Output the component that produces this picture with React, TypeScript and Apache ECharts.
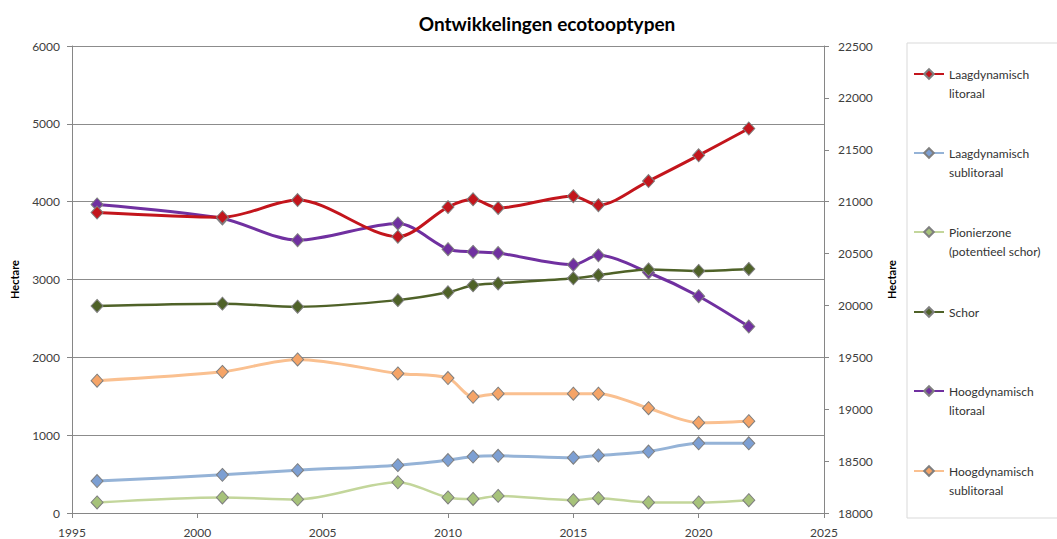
import React, { useEffect, useRef } from "react";
import * as echarts from "echarts";

const years = [1996, 2001, 2004, 2008, 2010, 2011, 2012, 2015, 2016, 2018, 2020, 2022];
const laagLitoraal = [3860, 3800, 4020, 3550, 3930, 4030, 3920, 4070, 3955, 4265, 4595, 4940];
const laagSublitoraal = [410, 490, 550, 615, 680, 725, 735, 710, 740, 790, 895, 895];
const pionierzone = [135, 200, 175, 395, 200, 180, 220, 165, 190, 135, 135, 165];
const schor = [2660, 2690, 2650, 2735, 2835, 2925, 2950, 3015, 3055, 3130, 3110, 3135];
const hoogLitoraal = [3965, 3785, 3505, 3720, 3390, 3355, 3340, 3190, 3310, 3090, 2785, 2395];
const hoogSublitoraal = [19275, 19360, 19480, 19345, 19300, 19120, 19150, 19150, 19150, 19010, 18870, 18885];

const seriesNames = [
  "Laagdynamisch litoraal",
  "Laagdynamisch sublitoraal",
  "Pionierzone (potentieel schor)",
  "Schor",
  "Hoogdynamisch litoraal",
  "Hoogdynamisch sublitoraal",
];
const legendLabels = [
  "Laagdynamisch\nlitoraal",
  "Laagdynamisch\nsublitoraal",
  "Pionierzone\n(potentieel schor)",
  "Schor",
  "Hoogdynamisch\nlitoraal",
  "Hoogdynamisch\nsublitoraal",
];
const seriesData = [laagLitoraal, laagSublitoraal, pionierzone, schor, hoogLitoraal, hoogSublitoraal];
const axisIndex = [0, 0, 0, 0, 0, 1];
const lineColors = ["#C3151C", "#95B3D7", "#C3D69B", "#4F6228", "#7030A0", "#FAC090"];
const markerColors = ["#C3151C", "#7C9FD3", "#A6C27A", "#4F6228", "#7030A0", "#F5A467"];
const lineWidths = [3, 3, 2.5, 2.5, 3, 3];
const legendIconY = [74, 153, 232, 312, 391, 471];

const FONT = "Lato, 'Open Sans', sans-serif";

export default function App() {
  const ref = useRef<HTMLDivElement>(null);
  useEffect(() => {
    if (!ref.current) return;
    const chart = echarts.init(ref.current, undefined, { renderer: "svg" });
    const series = seriesNames.map((name, i) => ({
      name,
      type: "line",
      yAxisIndex: axisIndex[i],
      data: years.map((y, j) => [y, seriesData[i][j]]),
      smooth: 0.3,
      symbol: "diamond",
      symbolSize: [12, 13],
      lineStyle: { color: lineColors[i], width: lineWidths[i] },
      itemStyle: { color: markerColors[i], borderColor: "#7f7f7f", borderWidth: 1 },
      z: 10 - i,
    }));
    const legends = seriesNames.map((name, i) => {
      const twoLine = legendLabels[i].includes("\n");
      const boxH = twoLine ? 57 : 19;
      return {
        left: 908,
        top: legendIconY[i] - boxH / 2 - 5,
        orient: "vertical",
        itemWidth: 30,
        itemHeight: 12,
        selectedMode: false,
        formatter: () => (twoLine ? "\n" + legendLabels[i] : legendLabels[i]),
        data: [
          {
            name,
            textStyle: {
              fontFamily: FONT,
              fontSize: 12,
              color: "#333",
              lineHeight: 19,
            },
          },
        ],
      };
    });
    const axisLabelStyle = { fontFamily: FONT, fontSize: 12, color: "#404040" };
    chart.setOption({
      animation: false,
      backgroundColor: "#fff",
      title: {
        text: "Ontwikkelingen ecotooptypen",
        left: 542,
        textAlign: "center",
        top: 9,
        textStyle: { fontFamily: FONT, fontSize: 19, fontWeight: "bold", color: "#000" },
      },
      legend: legends,
      graphic: [
        {
          type: "rect",
          shape: { x: 907, y: 43, width: 200, height: 475 },
          style: { fill: "none", stroke: "#d9d9d9", lineWidth: 1 },
          silent: true,
        },
      ],
      grid: { left: 72, right: 233, top: 46, bottom: 26, containLabel: false },
      xAxis: {
        type: "value",
        min: 1995,
        max: 2025,
        interval: 5,
        axisLine: { lineStyle: { color: "#868686" } },
        axisTick: { lineStyle: { color: "#868686" }, length: 5 },
        splitLine: { show: false },
        axisLabel: { ...axisLabelStyle, formatter: (v: number) => String(v), margin: 13 },
      },
      yAxis: [
        {
          type: "value",
          min: 0,
          max: 6000,
          interval: 1000,
          name: "Hectare",
          nameLocation: "middle",
          nameGap: 52,
          nameTextStyle: { fontFamily: FONT, fontSize: 11, fontWeight: "bold", color: "#000" },
          axisLine: { show: true, lineStyle: { color: "#868686" } },
          axisTick: { show: true, lineStyle: { color: "#868686" }, length: 5 },
          splitLine: { show: true, lineStyle: { color: "#8c8c8c", width: 1 } },
          axisLabel: { ...axisLabelStyle, formatter: (v: number) => String(v), margin: 12 },
        },
        {
          type: "value",
          min: 18000,
          max: 22500,
          interval: 500,
          position: "right",
          name: "Hectare",
          nameLocation: "middle",
          nameGap: 62,
          nameTextStyle: { fontFamily: FONT, fontSize: 11, fontWeight: "bold", color: "#000" },
          axisLine: { show: true, lineStyle: { color: "#868686" } },
          axisTick: { show: true, lineStyle: { color: "#868686" }, length: 5 },
          splitLine: { show: false },
          axisLabel: { ...axisLabelStyle, formatter: (v: number) => String(v), margin: 14 },
        },
      ],
      series,
    });
    return () => chart.dispose();
  }, []);
  return <div ref={ref} style={{ width: 1057, height: 539, position: "absolute", left: 0, top: 0 }} />;
}
